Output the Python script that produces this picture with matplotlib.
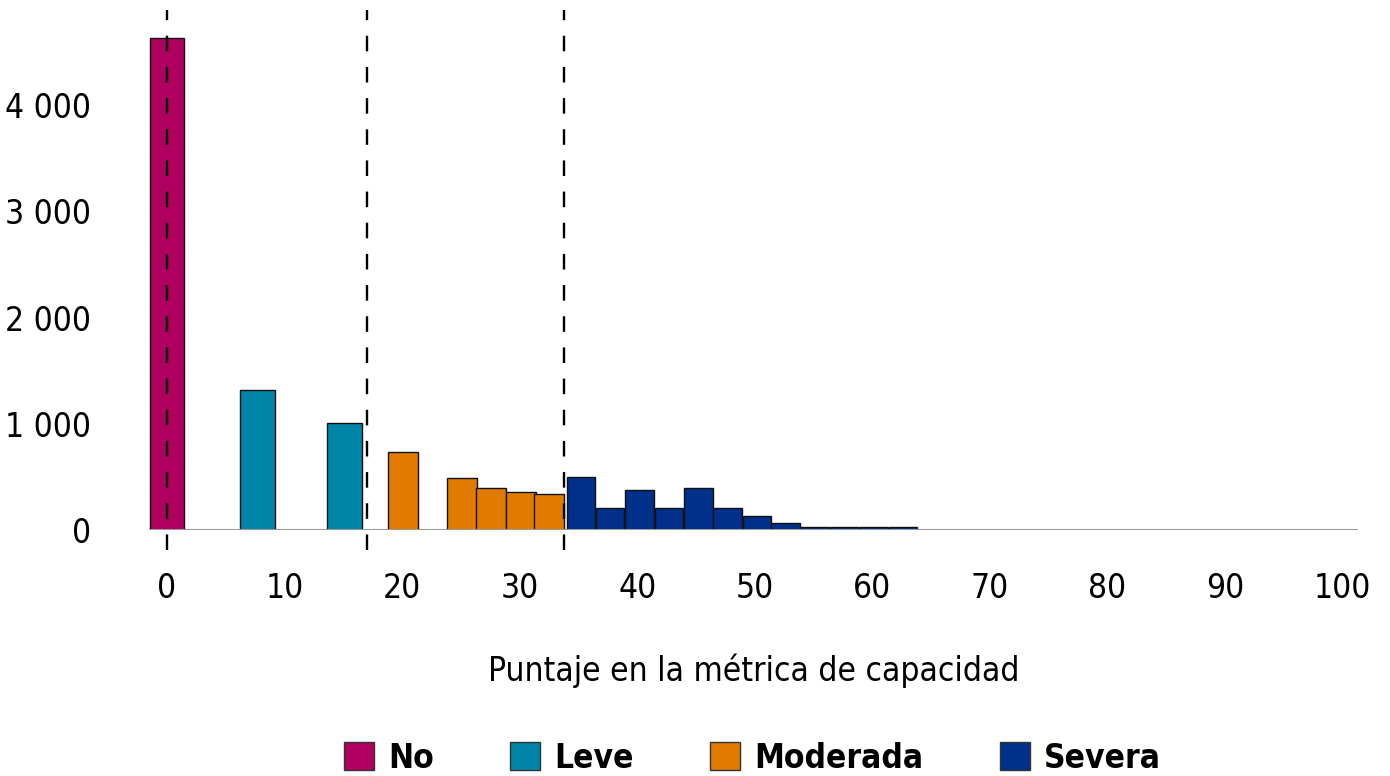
import matplotlib
matplotlib.use("Agg")
import matplotlib.pyplot as plt
from matplotlib.patches import Patch
from matplotlib.ticker import FuncFormatter

plt.rcParams['font.family'] = ['DejaVu Sans']
plt.rcParams['font.stretch'] = 'condensed'

# histogram bars (score bin centre, count)
no_x = [0]
no_y = [4630]
leve_x = [7.7, 15.1]
leve_y = [1322, 1006]
mod_x = [20.1, 25.1, 27.6, 30.1, 32.5]
mod_y = [735, 493, 399, 358, 336]
sev_x = [35.2, 37.7, 40.2, 42.7, 45.2, 47.7, 50.2, 52.6, 55.1, 57.6, 60.1, 62.6]
sev_y = [497, 209, 374, 209, 400, 209, 134, 64, 30, 24, 24, 24]

cuts = [0, 17.0, 33.75]
categories = ["No", "Leve", "Moderada", "Severa"]
colors = ["#AF005F", "#0085A8", "#E17B00", "#00308A"]

fig = plt.figure(figsize=(13.9, 7.76), dpi=100)
ax = fig.add_axes([0.1072, 0.317, 0.8696, 0.657])

groups = [(no_x, no_y, 2.95), (leve_x, leve_y, 2.95), (mod_x, mod_y, 2.55), (sev_x, sev_y, 2.42)]
for (xs, ys, w), c in zip(groups, colors):
    ax.bar(xs, ys, width=w, color=c, edgecolor="#111111", linewidth=1.0, zorder=2)

ax.axhline(0, color="#999999", lw=2.2, zorder=3)
ax.vlines(cuts, -190, 4900, colors="black", linestyles=(0, (6.6, 6.6)), lw=1.7,
          clip_on=False, zorder=4)

ax.set_xlim(-1.53, 101.3)
ax.set_ylim(0, 4800)
ax.set_xticks(range(0, 101, 10))
ax.set_yticks([0, 1000, 2000, 3000, 4000])
ax.yaxis.set_major_formatter(FuncFormatter(lambda v, p: f"{int(v):,}".replace(",", " ")))
ax.tick_params(axis="both", length=0, labelsize=24)
ax.tick_params(axis="y", pad=42)
ax.tick_params(axis="x", pad=30)
for s in ax.spines.values():
    s.set_visible(False)

ax.set_xlabel("Puntaje en la métrica de capacidad", fontsize=24, labelpad=35)

handles = [Patch(facecolor=c, edgecolor="#333333", lw=1.0, label=l) for c, l in zip(colors, categories)]
fig.legend(handles=handles, loc="center", bbox_to_anchor=(0.5414, 0.023), ncol=4, frameon=False,
           prop={"weight": "bold", "size": 24, "stretch": "condensed"}, handlelength=0.9,
           handleheight=0.9, handletextpad=0.42, columnspacing=2.3)

fig.savefig("out.png", dpi=100)
